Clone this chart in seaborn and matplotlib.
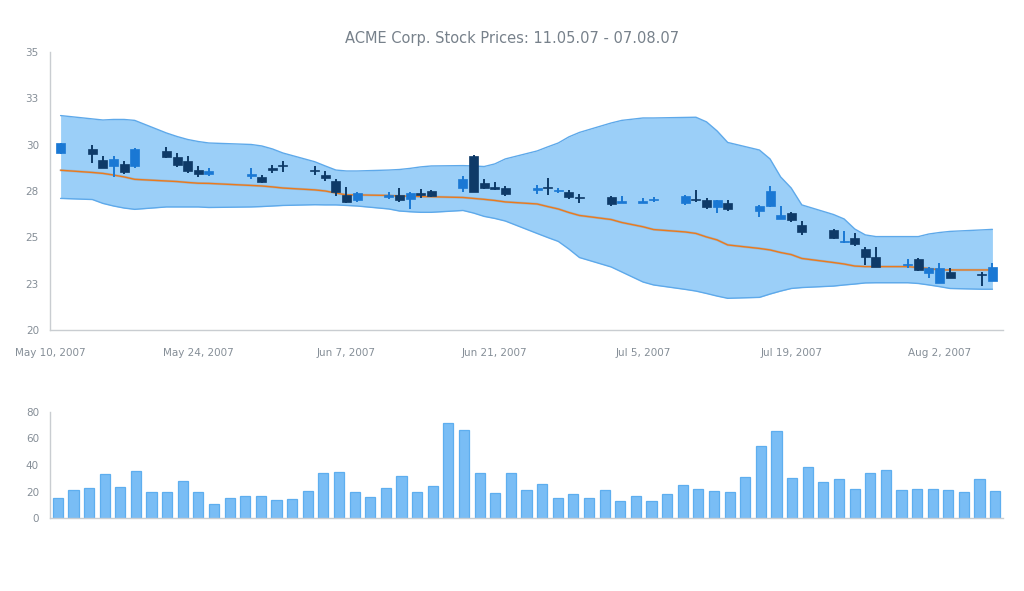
import pandas as pd
import matplotlib
matplotlib.use('Agg')
import matplotlib.pyplot as plt
import seaborn as sns

# trading days
dates = ['2007-05-11',
         '2007-05-14', '2007-05-15', '2007-05-16', '2007-05-17', '2007-05-18',
         '2007-05-21', '2007-05-22', '2007-05-23', '2007-05-24', '2007-05-25',
         '2007-05-29', '2007-05-30', '2007-05-31', '2007-06-01',
         '2007-06-04', '2007-06-05', '2007-06-06', '2007-06-07', '2007-06-08',
         '2007-06-11', '2007-06-12', '2007-06-13', '2007-06-14', '2007-06-15',
         '2007-06-18', '2007-06-19', '2007-06-20', '2007-06-21', '2007-06-22',
         '2007-06-25', '2007-06-26', '2007-06-27', '2007-06-28', '2007-06-29',
         '2007-07-02', '2007-07-03', '2007-07-05', '2007-07-06',
         '2007-07-09', '2007-07-10', '2007-07-11', '2007-07-12', '2007-07-13',
         '2007-07-16', '2007-07-17', '2007-07-18', '2007-07-19', '2007-07-20',
         '2007-07-23', '2007-07-24', '2007-07-25', '2007-07-26', '2007-07-27',
         '2007-07-30', '2007-07-31', '2007-08-01', '2007-08-02', '2007-08-03',
         '2007-08-06', '2007-08-07']

open_p = [29.57, 29.77, 29.15, 28.87, 28.94, 28.87, 29.64, 29.33, 29.12, 28.65,
          28.42, 28.33, 28.23, 28.70, 28.88, 28.62, 28.36, 28.05, 27.28, 27.00,
          27.20, 27.28, 27.06, 27.34, 27.50, 27.68, 29.41, 27.92, 27.66, 27.68,
          27.58, 27.70, 27.51, 27.46, 27.16, 27.19, 26.87, 26.87, 27.00, 26.83,
          27.04, 27.02, 26.66, 26.83, 26.44, 26.69, 26.00, 26.30, 25.67, 25.40,
          24.75, 24.95, 24.37, 23.92, 23.50, 23.83, 23.09, 22.55, 23.15, 23.00,
          22.66]
high_p = [30.10, 29.98, 29.40, 29.40, 29.12, 29.80, 29.90, 29.53, 29.40, 28.83,
          28.73, 28.73, 28.36, 28.90, 29.12, 28.83, 28.59, 28.13, 27.70, 27.46,
          27.46, 27.64, 27.46, 27.60, 27.56, 28.30, 29.44, 28.13, 27.96, 27.77,
          27.82, 28.18, 27.64, 27.56, 27.34, 27.23, 27.23, 27.10, 27.16, 27.28,
          27.56, 27.10, 26.99, 26.99, 26.75, 27.77, 26.69, 26.39, 25.88, 25.45,
          25.36, 25.22, 24.46, 24.46, 23.81, 23.90, 23.40, 23.63, 23.33, 23.15,
          23.63]
low_p = [29.50, 29.03, 28.73, 28.24, 28.42, 28.73, 29.30, 28.78, 28.49, 28.23,
         28.30, 28.17, 27.92, 28.45, 28.55, 28.36, 28.05, 27.23, 26.87, 26.92,
         27.05, 26.92, 26.53, 27.10, 27.17, 27.46, 27.43, 27.60, 27.53, 27.25,
         27.34, 27.28, 27.37, 27.05, 26.87, 26.69, 26.83, 26.83, 26.92, 26.75,
         26.92, 26.51, 26.30, 26.44, 26.08, 26.62, 25.97, 25.85, 25.13, 24.89,
         24.68, 24.53, 23.50, 23.38, 23.33, 23.18, 22.79, 22.52, 22.79, 22.37,
         22.66]
close_p = [30.07, 29.48, 28.76, 29.20, 28.55, 29.77, 29.33, 28.90, 28.57, 28.42,
           28.60, 28.40, 27.96, 28.65, 28.83, 28.57, 28.18, 27.46, 26.92, 27.37,
           27.26, 27.00, 27.37, 27.30, 27.25, 28.13, 27.46, 27.64, 27.62, 27.32,
           27.62, 27.66, 27.55, 27.19, 27.12, 26.80, 26.90, 26.90, 27.04, 27.23,
           27.00, 26.66, 26.99, 26.55, 26.69, 27.50, 26.20, 25.94, 25.31, 24.95,
           24.80, 24.63, 23.96, 23.42, 23.53, 23.24, 23.33, 23.33, 22.83, 22.95,
           23.38]

band_upper = [31.57, 31.39, 31.33, 31.36, 31.36, 31.31, 30.63, 30.44, 30.28, 30.17,
              30.09, 30.01, 29.93, 29.77, 29.55, 29.08, 28.85, 28.63, 28.58, 28.58,
              28.63, 28.66, 28.72, 28.80, 28.85, 28.87, 28.85, 28.82, 28.96, 29.23,
              29.66, 29.88, 30.09, 30.42, 30.66, 31.17, 31.31, 31.44, 31.44, 31.47,
              31.48, 31.23, 30.74, 30.12, 29.71, 29.23, 28.26, 27.66, 26.75, 26.23,
              25.99, 25.45, 25.13, 25.04, 25.04, 25.04, 25.18, 25.26, 25.32, 25.40,
              25.43]
band_lower = [27.10, 27.04, 26.83, 26.69, 26.58, 26.51, 26.64, 26.64, 26.64, 26.64,
              26.61, 26.64, 26.66, 26.69, 26.72, 26.76, 26.75, 26.75, 26.72, 26.69,
              26.53, 26.42, 26.38, 26.35, 26.35, 26.45, 26.31, 26.13, 26.02, 25.88,
              25.21, 24.99, 24.78, 24.37, 23.91, 23.40, 23.13, 22.59, 22.43, 22.19,
              22.10, 21.97, 21.83, 21.71, 21.76, 21.94, 22.10, 22.24, 22.29, 22.37,
              22.43, 22.48, 22.54, 22.55, 22.55, 22.51, 22.43, 22.34, 22.24, 22.20,
              22.20]
moving_avg = [28.62, 28.50, 28.45, 28.36, 28.26, 28.13, 28.04, 28.01, 27.96, 27.92,
              27.91, 27.80, 27.77, 27.72, 27.66, 27.56, 27.50, 27.39, 27.29, 27.29,
              27.26, 27.23, 27.22, 27.20, 27.19, 27.15, 27.10, 27.05, 26.99, 26.91,
              26.80, 26.66, 26.53, 26.34, 26.18, 25.96, 25.80, 25.57, 25.42, 25.29,
              25.21, 25.02, 24.86, 24.59, 24.40, 24.32, 24.18, 24.07, 23.86, 23.64,
              23.56, 23.45, 23.42, 23.42, 23.42, 23.37, 23.32, 23.24, 23.24, 23.24,
              23.24]

volume = [15, 21.5, 23, 33.5, 23.75, 35.75, 19.25, 20, 28.25, 20,
          10.75, 14.75, 16.25, 16.25, 13.25, 14, 20.75, 34.25, 35, 19.25,
          15.5, 23, 32, 19.25, 24.5, 71.75, 66.5, 34.25, 18.5, 34.25,
          21.5, 26, 14.75, 17.75, 14.75, 21.5, 12.5, 16.25, 12.5, 17.75,
          25.25, 22.25, 20.75, 19.25, 31.25, 54.5, 65.75, 30.5, 38.75, 27.5,
          29.75, 22.25, 34.25, 36.5, 21.5, 22.25, 22.25, 21.5, 20, 29.75,
          20.75]

price_ticks = [20, 22.5, 25, 27.5, 30, 32.5, 35]
price_labels = ['20', '23', '25', '28', '30', '33', '35']
date_ticks = ['2007-05-10', '2007-05-24', '2007-06-07', '2007-06-21',
              '2007-07-05', '2007-07-19', '2007-08-02']
date_labels = ['May 10, 2007', 'May 24, 2007', 'Jun 7, 2007', 'Jun 21, 2007',
               'Jul 5, 2007', 'Jul 19, 2007', 'Aug 2, 2007']
title = 'ACME Corp. Stock Prices: 11.05.07 - 07.08.07'

df = pd.DataFrame({'date': pd.to_datetime(dates), 'open': open_p, 'high': high_p,
                   'low': low_p, 'close': close_p, 'upper': band_upper,
                   'lower': band_lower, 'ma': moving_avg, 'volume': volume})
df['idx'] = range(len(df))

sns.set_style('white')
plt.rcParams['font.family'] = ['DejaVu Sans']

axis_col = '#c9cdd1'
text_col = '#858e97'
up_col = '#1a78d4'
down_col = '#0e3a68'

fig = plt.figure(figsize=(10.24, 5.91), dpi=100)
ax = fig.add_axes([50 / 1024, 1 - 330 / 591, 953 / 1024, 278 / 591])
ax2 = fig.add_axes([50 / 1024, 1 - 518 / 591, 953 / 1024, 106 / 591])

# bollinger band + moving average
ax.fill_between(df['date'], df['lower'], df['upper'], color='#9bcff8', lw=0, zorder=1)
sns.lineplot(data=df, x='date', y='upper', ax=ax, color='#5ea9ea', lw=1, zorder=2)
sns.lineplot(data=df, x='date', y='lower', ax=ax, color='#5ea9ea', lw=1, zorder=2)
sns.lineplot(data=df, x='date', y='ma', ax=ax, color='#9a9a9a', lw=1.8, alpha=0.45, zorder=3)
sns.lineplot(data=df, x='date', y='ma', ax=ax, color='#ec7a1c', lw=1.0, zorder=3)

# candles
colors = [up_col if c >= o else down_col for o, c in zip(df['open'], df['close'])]
bottoms = df[['open', 'close']].min(axis=1)
heights = (df['close'] - df['open']).abs().clip(lower=0.07)
ax.vlines(df['date'], df['low'], df['high'], colors=colors, lw=1.4, zorder=4)
ax.bar(df['date'], heights, bottom=bottoms, width=0.85, color=colors,
       edgecolor=colors, lw=0.5, zorder=5)

ax.set_ylim(20, 35)
ax.set_xlim(pd.Timestamp('2007-05-10'), pd.Timestamp('2007-08-08'))
ax.set_yticks(price_ticks, price_labels)
ax.set_xticks(pd.to_datetime(date_ticks), date_labels)
ax.set_xlabel('')
ax.set_ylabel('')

# volume
sns.barplot(data=df, x='idx', y='volume', ax=ax2, color='#79bdf5', saturation=1,
            width=0.65, edgecolor='#5eaeef', linewidth=0.9)
ax2.set_xlim(-0.5, len(df) - 0.5)
ax2.set_ylim(0, 80)
ax2.set_yticks([0, 20, 40, 60, 80])
ax2.set_xticks([-0.5, 5.5, 16.5, 27.5, 38.5, 49.5, 60.5], [''] * 7)
ax2.set_xlabel('')
ax2.set_ylabel('')

for a in (ax, ax2):
    for s in ('top', 'right'):
        a.spines[s].set_visible(False)
    for s in ('left', 'bottom'):
        a.spines[s].set_color(axis_col)
        a.spines[s].set_linewidth(1)
    a.tick_params(axis='both', colors=axis_col, labelcolor=text_col, labelsize=7.5,
                  length=5, width=1, direction='out', pad=3)
ax.tick_params(axis='x', pad=8)

fig.text(0.5, 1 - 38 / 591, title, ha='center', va='center', fontsize=10.5,
         color='#77818b')

fig.savefig('out.png', dpi=100)
